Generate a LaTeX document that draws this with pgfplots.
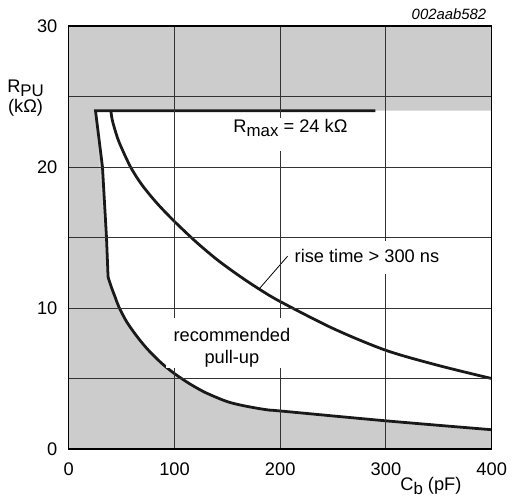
\documentclass[border=0pt]{standalone}
\usepackage{fontspec}
\setmainfont{Liberation Sans}
\usepackage{pgfplots}
\pgfplotsset{compat=1.18}
\usepgfplotslibrary{fillbetween}
\definecolor{shade}{HTML}{CCCCCC}
\newcommand\sub[1]{\raisebox{-2pt}{\fontsize{8.5}{10}\selectfont #1}}

\begin{document}
\fontsize{9.2}{11.3}\selectfont
\begin{tikzpicture}[curve/.style={black!90, line width=1.4pt}]
\begin{axis}[
  scale only axis, width=213.2pt, height=213.2pt,
  xmin=0, xmax=400, ymin=0, ymax=30,
  xtick={0,100,...,400}, ytick={0,10,20,30},
  minor ytick={5,15,25},
  grid=both,
  major grid style={black!80, line width=0.5pt},
  minor grid style={black!80, line width=0.5pt},
  major tick length=0pt, minor tick length=0pt,
  axis line style={black, line width=0.6pt},
  axis background/.style={fill=shade},
  axis on top,
  /pgf/number format/assume math mode=true,
  xticklabel style={yshift=-3.9pt},
  yticklabel style={xshift=-2.45pt},
]
% white "recommended" region
\addplot[draw=none, name path=top, forget plot] coordinates {(25.3,24) (400,24)};
\addplot[draw=none, name path=low, smooth, forget plot] coordinates {
  (37.2,12.2) (40,11.55) (44,10.75) (47.6,10.05) (55,9.0) (65,7.94) (75,7.04)
  (87.5,6.11) (100,5.35) (115,4.6) (130,3.98) (150,3.36) (165,3.08) (180,2.87)
  (190,2.76) (200,2.7) (300,2.0) (400,1.37)};
\addplot[fill=white, draw=none] fill between[of=top and low];
\addplot[draw=none, name path=chord, forget plot] coordinates {(25.3,24) (37.2,12.2)};
\addplot[draw=none, name path=steep, forget plot] coordinates {(25.3,24) (31.9,20) (35.7,15) (37.2,12.2)};
\addplot[fill=shade, draw=none] fill between[of=steep and chord];

% boundary curves
\addplot[curve] coordinates {(290,24) (25.3,24) (31.9,20) (35.7,15) (37.2,12.2)};
\addplot[curve, smooth, line cap=round] coordinates {
  (37.2,12.2) (40,11.55) (44,10.75) (47.6,10.05) (55,9.0) (65,7.94) (75,7.04)
  (87.5,6.11) (100,5.35) (115,4.6) (130,3.98) (150,3.36) (165,3.08) (180,2.87)
  (190,2.76) (200,2.7) (300,2.0) (400,1.37)};
% rise time > 300 ns
\addplot[curve, smooth] coordinates {
  (39.8,24) (41,23.4) (42.9,22.85) (47.6,21.77) (58.5,20) (69.4,18.72)
  (83.5,17.43) (100,16.14) (120,14.72) (140,13.45) (160,12.35) (180,11.35)
  (200,10.46) (250,8.55) (300,7.0) (350,5.92) (400,5.0)};
\draw[black, line width=0.4pt] (axis cs:180,11.35) -- (axis cs:207,13.68);

\coordinate (ylab) at (axis cs:0,24.9);
\coordinate (xlab) at (axis cs:400,0);
\coordinate (code) at (axis cs:400,30);
\coordinate (rmax) at (axis cs:155.4,22.48);
\coordinate (rise) at (axis cs:213.3,13.2);
\coordinate (rec) at (axis cs:154.3,9.34);
\coordinate (sw) at (rel axis cs:0,0);
\coordinate (ne) at (rel axis cs:1,1);
\end{axis}
\begin{pgfonlayer}{axis foreground}
\node[anchor=base west, xshift=-3pt, fill=white, text height=6.85pt, text depth=9pt, inner ysep=0.3pt, inner xsep=3pt] at (rmax) {R\sub{max} = 24 kΩ};
\node[anchor=base west, xshift=-3pt, fill=white, text height=10.5pt, text depth=5pt, inner ysep=0.5pt, inner xsep=3pt] at (rise) {rise time > 300 ns};
\node[anchor=north, fill=white, align=center, inner ysep=0pt, inner xsep=4pt] at (rec) {\rule{0pt}{12pt}recommended\\pull-up};
\end{pgfonlayer}
\node[align=center, font=\fontsize{9.2}{10.4}\selectfont] at ([xshift=-21.75pt]ylab) {R\sub{PU}\\(kΩ)};
\node[anchor=base east] at ([xshift=-12pt, yshift=-21.15pt]xlab) {C\sub{b} (pF)};
\node[anchor=base east, font=\fontsize{7.5}{9}\selectfont\itshape] at ([xshift=0.5pt, yshift=3.5pt]code) {002aab582};
\path ([xshift=-34.65pt, yshift=-26.15pt]sw) rectangle ([xshift=8.65pt, yshift=13.15pt]ne);
\end{tikzpicture}
\end{document}
